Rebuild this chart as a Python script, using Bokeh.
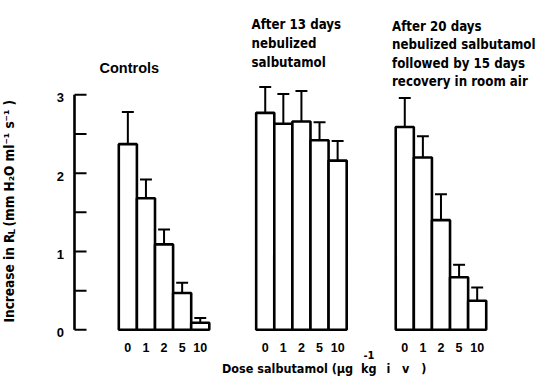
import math
from bokeh.plotting import figure
from bokeh.models import Range1d, Label
from bokeh.core.properties import value
from bokeh.embed import file_html
from bokeh.resources import INLINE

# ---- data ----
doses = ["0", "1", "2", "5", "10"]
controls_mean = [2.37, 1.68, 1.09, 0.47, 0.09]
controls_err = [0.41, 0.24, 0.19, 0.13, 0.06]
neb13_mean = [2.77, 2.63, 2.66, 2.42, 2.16]
neb13_err = [0.33, 0.38, 0.39, 0.23, 0.25]
recov_mean = [2.59, 2.20, 1.40, 0.67, 0.37]
recov_err = [0.37, 0.27, 0.33, 0.16, 0.17]
group_titles = [
    ["Controls"],
    ["After 13 days", "nebulized", "salbutamol"],
    ["After 20 days", "nebulized salbutamol", "followed by 15 days", "recovery in room air"],
]
y_ticks = [0, 1, 2, 3]
y_tick_labels = ["0", "1", "2", "3"]
y_minor = [0.5, 1.5, 2.5]
NB = "\u00a0"
x_title = ["Dose salbutamol (\u00b5g" + NB * 2 + "kg", "-1", "i" + NB * 3 + "v" + NB * 3 + ")"]
y_title = ["Increase in R", "L", "(mm H\u2082O ml\u207b\u00b9 s\u207b\u00b9 )"]

# ---- layout constants (pixels of the 535x378 picture) ----
W, H = 535, 378
X0, XS = 118.3, 18.1        # px of first bar's left edge, px per bar
Y0, YS = 329.3, 78.33       # px of value 0, px per unit
AXIS_PX = 74                # y axis line position
BL = 5                      # alphabetic-baseline correction (px)
group_start = [0.0, 7.59, 15.3]

def px2x(px):
    return (px - X0) / XS

def py2y(py):
    return (Y0 - py) / YS

p = figure(width=W, height=H, output_backend="svg", toolbar_location=None,
           x_range=Range1d(px2x(0), px2x(W)), y_range=Range1d(py2y(H), py2y(0)),
           x_axis_location=None, y_axis_location=None, min_border=0)
p.outline_line_color = None
p.grid.visible = False
p.background_fill_color = "white"
p.border_fill_color = "white"

NUM_FONT = "Liberation Sans"
TXT_FONT = "DejaVu Sans Condensed"

# ---- bars with upper error bars ----
series = [(controls_mean, controls_err), (neb13_mean, neb13_err), (recov_mean, recov_err)]
for g, (means, errs) in enumerate(series):
    xs = [group_start[g] + i + 0.5 for i in range(len(means))]
    tops = [m + e for m, e in zip(means, errs)]
    p.segment(x0=xs, y0=means, x1=xs, y1=tops, line_color="black", line_width=2)
    p.segment(x0=[x - 0.33 for x in xs], y0=tops, x1=[x + 0.33 for x in xs], y1=tops,
              line_color="black", line_width=2)
    p.vbar(x=xs, width=1, top=means, bottom=0, fill_color="white",
           line_color="black", line_width=2.6)
    p.text(x=xs, y=[py2y(352 - BL)] * len(xs), text=doses, text_align="center",
           text_baseline="alphabetic", text_font=value(NUM_FONT),
           text_font_style="bold", text_font_size="12.5px", text_color="black")

# ---- y axis (drawn on the plot's own scale) ----
ax = px2x(AXIS_PX)
tick_len = 12 / XS
p.segment(x0=[ax], y0=[y_ticks[0]], x1=[ax], y1=[y_ticks[-1]], line_color="black",
          line_width=2.6)
all_ticks = y_ticks + y_minor
p.segment(x0=[ax] * len(all_ticks), y0=all_ticks, x1=[ax + tick_len] * len(all_ticks),
          y1=all_ticks, line_color="black", line_width=2)
p.text(x=[px2x(63.5)] * len(y_ticks), y=y_ticks, text=y_tick_labels, text_align="right",
       text_baseline="middle", y_offset=3, text_font=value(NUM_FONT),
       text_font_style="bold", text_font_size="13px", text_color="black")

def add_label(px, py, text, size, font=TXT_FONT, style="bold", angle=0.0, bl=BL):
    p.add_layout(Label(x=px2x(px), y=py2y(py - bl), text=text, angle=angle,
                       text_font=font, text_font_style=style,
                       text_font_size=size, text_color="black",
                       text_align="left", text_baseline="alphabetic"))

# group titles
add_label(99, 72, group_titles[0][0], "14.5px", font=NUM_FONT)
for i, line in enumerate(group_titles[1]):
    add_label(251, 28.5 + 19 * i, line, "13.2px")
for i, line in enumerate(group_titles[2]):
    add_label(391.5, 30.5 + 18.5 * i, line, "13.2px")

# x title
add_label(221.5, 373, x_title[0], "12.5px")
add_label(363, 359, x_title[1], "11px")
add_label(386, 373, x_title[2], "12.5px")

# y title (rotated; the baseline correction acts horizontally here)
add_label(13 - BL, 322, y_title[0], "13.5px", angle=math.pi / 2, bl=0)
add_label(16 - BL, 234, y_title[1], "9.5px", angle=math.pi / 2, bl=0)
add_label(13 - BL, 226, y_title[2], "13.5px", angle=math.pi / 2, bl=0)

open("out.html", "w").write(file_html(p, INLINE))
